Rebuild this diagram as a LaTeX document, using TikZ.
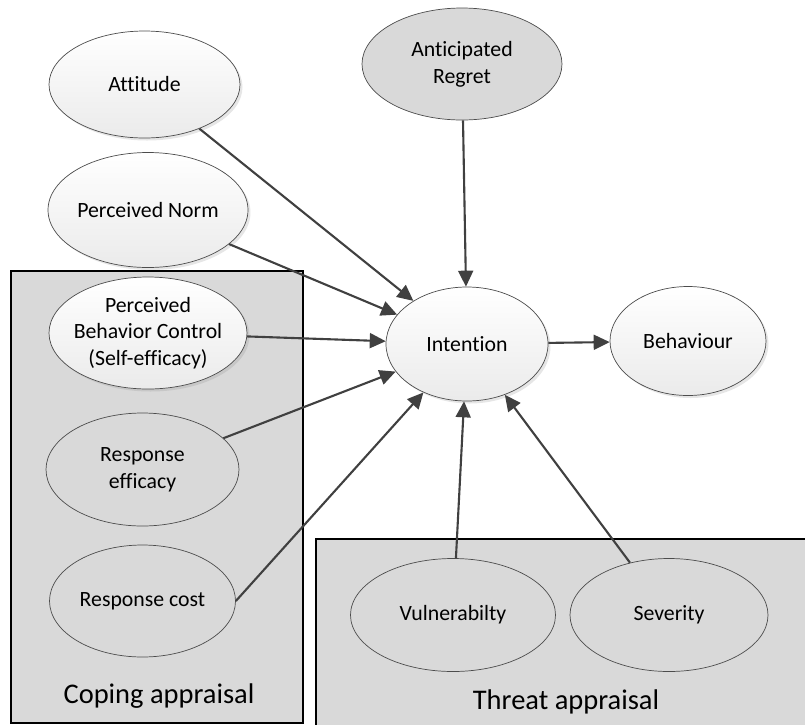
\documentclass[tikz,border=0pt]{standalone}
\usepackage{fontspec}
\setmainfont[RawFeature={-liga;-clig}]{Carlito}
\usetikzlibrary{arrows.meta,shapes.geometric,shadows}
\definecolor{appgray}{HTML}{D9D9D9}

\begin{document}
\begin{tikzpicture}
  \tikzstyle{oval} = [ellipse, draw=black!70, inner sep=0pt, align=center,
                      font=\fontsize{12.4}{15.2}\selectfont]
  \tikzstyle{construct} = [oval, top color=white, bottom color=black!8,
                           drop shadow={opacity=0.2, shadow xshift=0.05cm, shadow yshift=-0.05cm}]
  \tikzstyle{factor} = [oval, fill=appgray]
  \tikzstyle{appraisal} = [rectangle, draw, line width=0.8pt, fill=appgray, inner sep=0pt]
  \tikzstyle{boxlabel} = [font=\fontsize{16.2}{19}\selectfont]
  \tikzstyle{link} = [-{Triangle[length=0.32cm,width=0.3cm]}, line width=1.2pt, draw=black!75]

\useasboundingbox (0,0) rectangle (16.1,-14.48);
\node[appraisal, minimum width=5.84cm, minimum height=9.04cm] (coping) at (3.14,-9.94) {};
\node[appraisal, minimum width=10.08cm, minimum height=4.02cm] (threat) at (11.36,-12.79) {};
\node[boxlabel] (copinglbl) at (3.18,-13.92) {Coping appraisal};
\node[boxlabel] (threatlbl) at (11.32,-14.04) {Threat appraisal};

\node[construct, minimum width=3.82cm, minimum height=2.14cm] (att) at (2.89,-1.69) {Attitude};
\node[construct, minimum width=3.96cm, minimum height=2.3cm, below of=att, xshift=0.07cm, yshift=-1.51cm] (norm) {Perceived Norm};
\node[construct, minimum width=3.96cm, minimum height=2.24cm, inner xsep=-0.09cm, below of=norm, yshift=-1.46cm] (pbc) {Perceived\\Behavior Control\\(Self-efficacy)};
\node[factor, minimum width=3.86cm, minimum height=2.26cm, below of=pbc, xshift=-0.11cm, yshift=-1.73cm] (reff) {Response\\efficacy};
\node[factor, minimum width=3.72cm, minimum height=2.24cm, below of=reff, yshift=-1.63cm] (rcost) {Response cost};
\node[factor, minimum width=4cm, minimum height=2.24cm] (regret) at (9.24,-1.28) {Anticipated\\Regret};
\node[construct, minimum width=3.24cm, minimum height=2.28cm, below of=regret, xshift=0.1cm, yshift=-4.6cm] (int) {Intention};
\node[construct, minimum width=3.12cm, minimum height=2.18cm, right of=int, xshift=3.42cm, yshift=0.06cm] (beh) {Behaviour};
\node[factor, minimum width=4.1cm, minimum height=2.26cm, below of=int, xshift=-0.28cm, yshift=-4.42cm] (vul) {Vulnerabilty};
\node[factor, minimum width=3.96cm, minimum height=2.26cm, right of=vul, xshift=3.32cm] (sev) {Severity};

\draw[link] (att) -- (int);
\draw[link] (norm) -- (int);
\draw[link] (pbc) -- (int);
\draw[link] (reff) -- (int);
\draw[link] (rcost.east) -- (int);
\draw[link] (regret) -- (int);
\draw[link] (vul) -- (int);
\draw[link] (sev) -- (int);
\draw[link] (int) -- (beh);
\end{tikzpicture}
\end{document}
